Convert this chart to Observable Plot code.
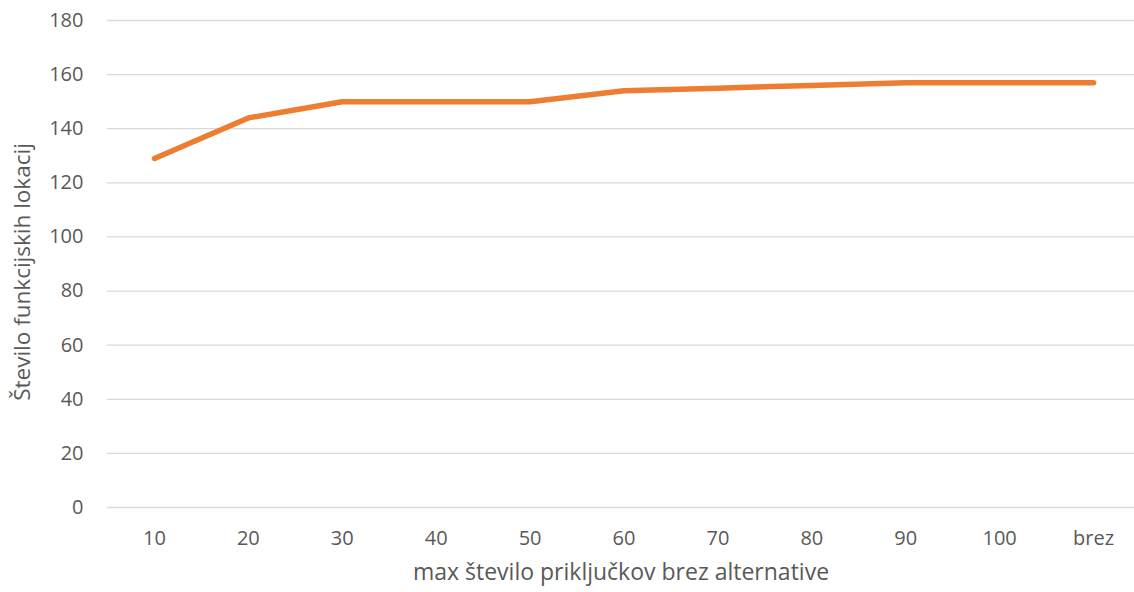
<!DOCTYPE html>
<html>
<head>
<meta charset="utf-8">
<script src="https://cdn.jsdelivr.net/npm/d3@7"></script>
<script src="https://cdn.jsdelivr.net/npm/@observablehq/plot@0.6"></script>
<style>
  html, body { margin: 0; padding: 0; background: #fff; }
  #chart svg { display: block; }
</style>
</head>
<body>
<div id="chart"></div>
<script>
const categories = ["10", "20", "30", "40", "50", "60", "70", "80", "90", "100", "brez"];
const values = [129, 144, 150, 150, 150, 154, 155, 156, 157, 157, 157];
const yTicks = [0, 20, 40, 60, 80, 100, 120, 140, 160, 180];

const data = categories.map((c, i) => ({cat: c, val: values[i]}));

const font = "'Open Sans', sans-serif";
const chart = Plot.plot({
  width: 1134,
  height: 592,
  marginLeft: 107,
  marginRight: -6,
  marginTop: 20,
  marginBottom: 85,
  style: {fontFamily: font, fontSize: "20px", color: "#595959", background: "#fff"},
  x: {type: "point", domain: categories, padding: 0.5, round: false, label: null},
  y: {domain: [0, 180], label: null},
  marks: [
    Plot.ruleY(yTicks, {stroke: "#d9d9d9", strokeWidth: 1.3}),
    Plot.axisY(yTicks, {tickSize: 0, tickPadding: 24, fontSize: 20, fill: "#595959",
      label: null}),
    Plot.axisX(categories, {tickSize: 0, tickPadding: 23, fontSize: 20, fill: "#595959",
      label: null}),
    Plot.text(["Število funkcijskih lokacij"], {frameAnchor: "left", rotate: -90, dx: -85, dy: 8,
      fontSize: 22.5, fill: "#595959", textAnchor: "middle"}),
    Plot.text(["max število priključkov brez alternative"], {frameAnchor: "bottom", dy: 72,
      fontSize: 23, fill: "#595959", textAnchor: "middle", dx: -3}),
    Plot.line(data, {x: "cat", y: "val", stroke: "#ED7D31", strokeWidth: 5.5, strokeLinecap: "round", strokeLinejoin: "round"})
  ]
});
document.getElementById("chart").appendChild(chart);
</script>
</body>
</html>
